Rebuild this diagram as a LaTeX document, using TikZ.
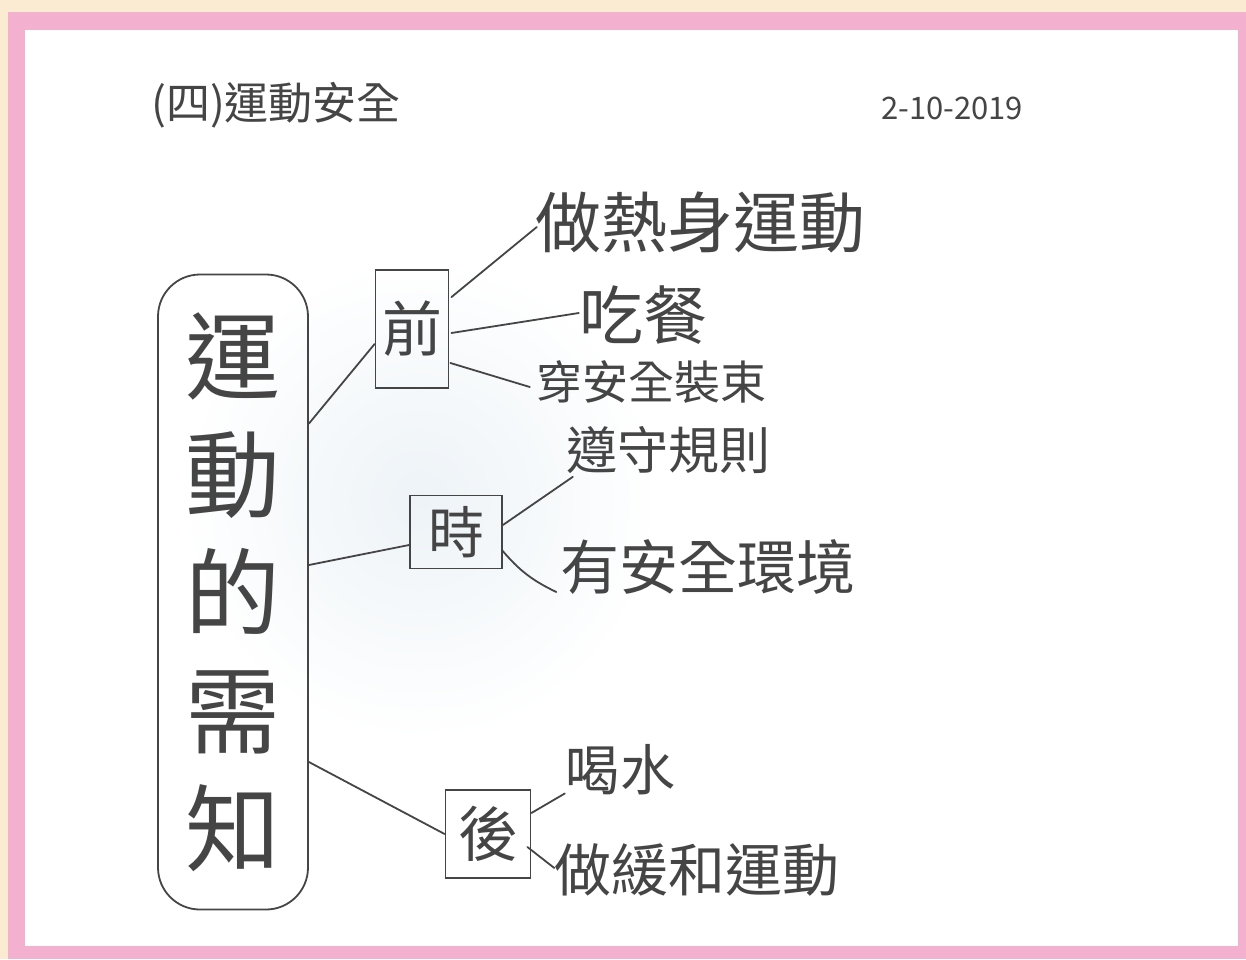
\documentclass[tikz,border=0pt]{standalone}
\usepackage{fontspec}
\newfontfamily\cjk{Noto Sans CJK TC}
\usetikzlibrary{calc}
\definecolor{cream}{HTML}{FAEBD2}
\definecolor{pinkframe}{HTML}{F4B1CF}
\definecolor{pencil}{HTML}{454545}
\definecolor{glow}{HTML}{EDF3F7}
\tikzset{
  fs/.style={font=\cjk\fontsize{#1}{#1}\selectfont},
  txt/.style={inner sep=0pt, text=pencil},
  keybox/.style={draw=pencil, line width=1.8pt, inner sep=0pt, text=pencil},
  link/.style={draw=pencil, line width=1.8pt, line cap=round}
}
\begin{document}
\begin{tikzpicture}[x=1pt,y=-1pt]
\useasboundingbox (0,0) rectangle (1246,959);
\fill[cream] (0,0) rectangle (1246,959);
\fill[pinkframe] (8,12) rectangle (1246,959);
\fill[white] (25,30) rectangle (1238,946);
\shade[inner color=glow, outer color=white] (420,500) circle (240);

% title and date
\node[txt, fs=44pt] (title) at (276,105) {(四)運動安全};
\node[txt, fs=31pt] (date) at (952,108) {2-10-2019};

% central node
\node[keybox, rounded corners=42pt, minimum width=150pt, minimum height=635pt,
      align=center, font=\cjk\fontsize{95pt}{118pt}\selectfont] (need) at (233,592)
      {運\\動\\的\\需\\知};

% phase boxes
\node[keybox, fs=60pt, minimum width=73pt, minimum height=118pt] (qian) at (412,329) {前};
\node[keybox, fs=56pt, minimum width=92pt, minimum height=73pt] (shi) at (456,532) {時};
\node[keybox, fs=60pt, minimum width=85pt, minimum height=88pt] (hou) at (488,834) {後};

% leaf texts
\node[txt, fs=66pt] (t1) at (700,222) {做熱身運動};
\node[txt, fs=64pt] (t2) at (643,315) {吃餐};
\node[txt, fs=46pt] (t3) at (651,382) {穿安全裝束};
\node[txt, fs=51pt] (t4) at (668,450) {遵守規則};
\node[txt, fs=59pt] (t5) at (708,567) {有安全環境};
\node[txt, fs=55pt] (t6) at (620,770) {喝水};
\node[txt, fs=57pt] (t7) at (697,870) {做緩和運動};

% connectors: centre to phases
\draw[link] ($(need.north east)+(0,150)$) -- ($(qian.west)+(0,15)$);
\draw[link] ($(need.east)+(0,-27)$) -- ($(shi.west)+(0,13)$);
\draw[link] ($(need.east)+(0,170)$) -- (hou.west);

% 前
\draw[link] ($(qian.north east)+(2,28)$) -- ($(t1.west)+(2,5)$);
\draw[link] ($(qian.east)+(2,4)$) -- ($(t2.west)+(0,-2)$);
\draw[link] ($(qian.east)+(1,34)$) -- ($(t3.west)+(-6,5)$);

% 時
\draw[link] ($(shi.east)+(0,-7)$) -- ($(t4.south west)+(7,3)$);
\draw[link] ($(shi.east)+(-1,18)$) to[bend right=12] ($(t5.west)+(-4,25)$);

% 後
\draw[link] ($(hou.east)+(0,-21)$) -- ($(t6.south west)+(0,-2)$);
\draw[link] ($(hou.east)+(-4,13)$) -- ($(t7.west)+(0,-2)$);
\end{tikzpicture}
\end{document}
